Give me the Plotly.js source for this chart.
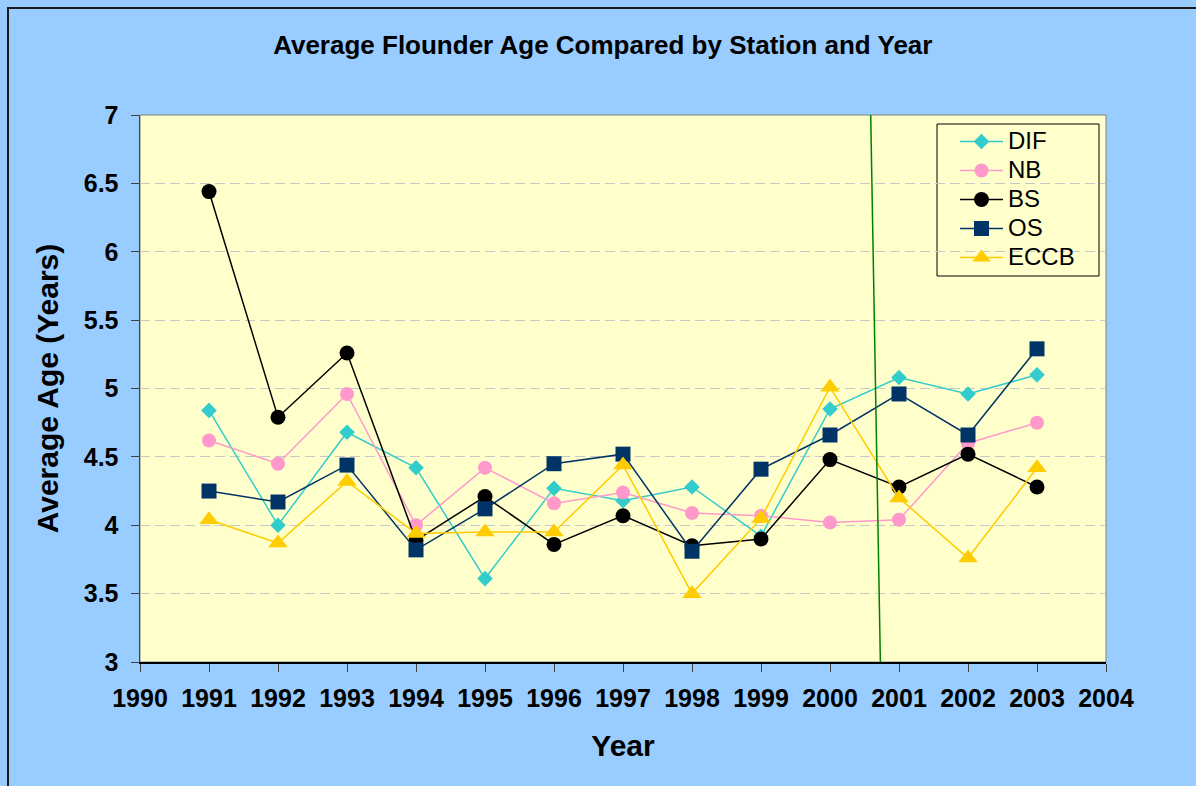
<!DOCTYPE html>
<html>
<head>
<meta charset="utf-8">
<script src="https://cdn.plot.ly/plotly-3.0.1.min.js"></script>
<style>
  html, body { margin: 0; padding: 0; background: #99CCFF; }
  #chart { width: 1196px; height: 786px; position: absolute; left: 0; top: 0; }
  #frame { position: absolute; left: 7px; top: 7px; width: 1200px; height: 800px;
           border-left: 2px solid #1a1a1a; border-top: 2px solid #1a1a1a; pointer-events: none; }
</style>
</head>
<body>
<div id="chart"></div>
<div id="frame"></div>
<script>
const years = [1991, 1992, 1993, 1994, 1995, 1996, 1997, 1998, 1999, 2000, 2001, 2002, 2003];
const DIF  = [4.84, 4.00, 4.68, 4.42, 3.61, 4.27, 4.18, 4.28, 3.92, 4.85, 5.08, 4.96, 5.10];
const NB   = [4.62, 4.45, 4.96, 4.00, 4.42, 4.16, 4.24, 4.09, 4.07, 4.02, 4.04, 4.60, 4.75];
const BS   = [6.44, 4.79, 5.26, 3.89, 4.21, 3.86, 4.07, 3.85, 3.90, 4.48, 4.28, 4.52, 4.28];
const OS   = [4.25, 4.17, 4.44, 3.82, 4.12, 4.45, 4.52, 3.81, 4.41, 4.66, 4.96, 4.66, 5.29];
const ECCB = [4.04, 3.87, 4.32, 3.94, 3.95, 3.95, 4.44, 3.50, 4.05, 5.01, 4.20, 3.76, 4.42];
const xTicks = [1990, 1991, 1992, 1993, 1994, 1995, 1996, 1997, 1998, 1999, 2000, 2001, 2002, 2003, 2004];
const yTicks = [3, 3.5, 4, 4.5, 5, 5.5, 6, 6.5, 7];
const dividerX = [2000.59, 2000.73];
const dividerY = [7, 3];

const FONT = 'Liberation Sans, Arial, sans-serif';

function series(name, y, color, symbol, size) {
  return {
    type: 'scatter', mode: 'lines+markers',
    name: '<span style="font-size:24px">' + name + '</span>',
    x: years, y: y,
    line: { color: color, width: 1.5 },
    marker: { color: color, symbol: symbol, size: size, line: { width: 0 } }
  };
}

const data = [
  series('DIF', DIF, '#33CCCC', 'diamond', 12),
  series('NB', NB, '#FF99CC', 'circle', 14),
  series('BS', BS, '#000000', 'circle', 15),
  series('OS', OS, '#003366', 'square', 15),
  series('ECCB', ECCB, '#FFCC00', 'triangle-up', 17)
];

const layout = {
  width: 1196, height: 786,
  margin: { l: 140, r: 90, t: 115, b: 124 },
  paper_bgcolor: '#99CCFF',
  plot_bgcolor: '#FFFFCC',
  font: { family: FONT, color: '#000' },
  title: {
    text: '<b>Average Flounder Age Compared by Station and Year</b>',
    font: { family: FONT, size: 26, color: '#000' },
    xref: 'container', x: 0.504, xanchor: 'center',
    yref: 'container', y: 1 - 45 / 786, yanchor: 'middle'
  },
  xaxis: {
    range: [1990, 2004], tickvals: xTicks, ticktext: xTicks.map(String),
    showgrid: false, zeroline: false,
    showline: true, linecolor: '#000', linewidth: 1.5,
    ticks: 'outside', ticklen: 8, tickcolor: '#404040', tickwidth: 1,
    ticklabelstandoff: 5,
    tickfont: { family: FONT, size: 25, color: '#000', weight: 'bold' },
    title: { text: '<b>Year</b>', font: { family: FONT, size: 30, color: '#000' }, standoff: 24 }
  },
  yaxis: {
    range: [3, 7], tickvals: yTicks, ticktext: yTicks.map(String),
    showgrid: true, gridcolor: '#C8C8C8', griddash: '10px,5px', gridwidth: 1,
    zeroline: false,
    showline: true, linecolor: '#404040', linewidth: 1.5,
    ticks: 'outside', ticklen: 8, tickcolor: '#404040', tickwidth: 1,
    ticklabelstandoff: 7,
    tickfont: { family: FONT, size: 25, color: '#000', weight: 'bold' },
    title: { text: '<b>Average Age (Years)</b>', font: { family: FONT, size: 30, color: '#000' }, standoff: 16 }
  },
  legend: {
    x: (955 - 140) / 966, xanchor: 'left',
    y: (662 - 122) / 547, yanchor: 'top',
    bgcolor: 'rgba(0,0,0,0)', borderwidth: 0,
    font: { family: FONT, size: 20, color: '#000' },
    itemwidth: 43
  },
  shapes: [
    { type: 'rect', xref: 'paper', yref: 'paper', x0: 0, x1: 1, y0: 0, y1: 1,
      line: { color: '#808080', width: 1 }, layer: 'below' },
    { type: 'rect', xref: 'paper', yref: 'paper',
      x0: (937 - 140) / 966, x1: (1099 - 140) / 966,
      y0: (662 - 276) / 547, y1: (662 - 124) / 547,
      line: { color: '#000', width: 1 }, fillcolor: '#FFFFCC', layer: 'below' },
    { type: 'line', xref: 'x', yref: 'y',
      x0: dividerX[0], y0: dividerY[0], x1: dividerX[1], y1: dividerY[1],
      line: { color: '#008000', width: 1.5 } }
  ]
};

Plotly.newPlot('chart', data, layout, { displayModeBar: false, staticPlot: true });
</script>
</body>
</html>
